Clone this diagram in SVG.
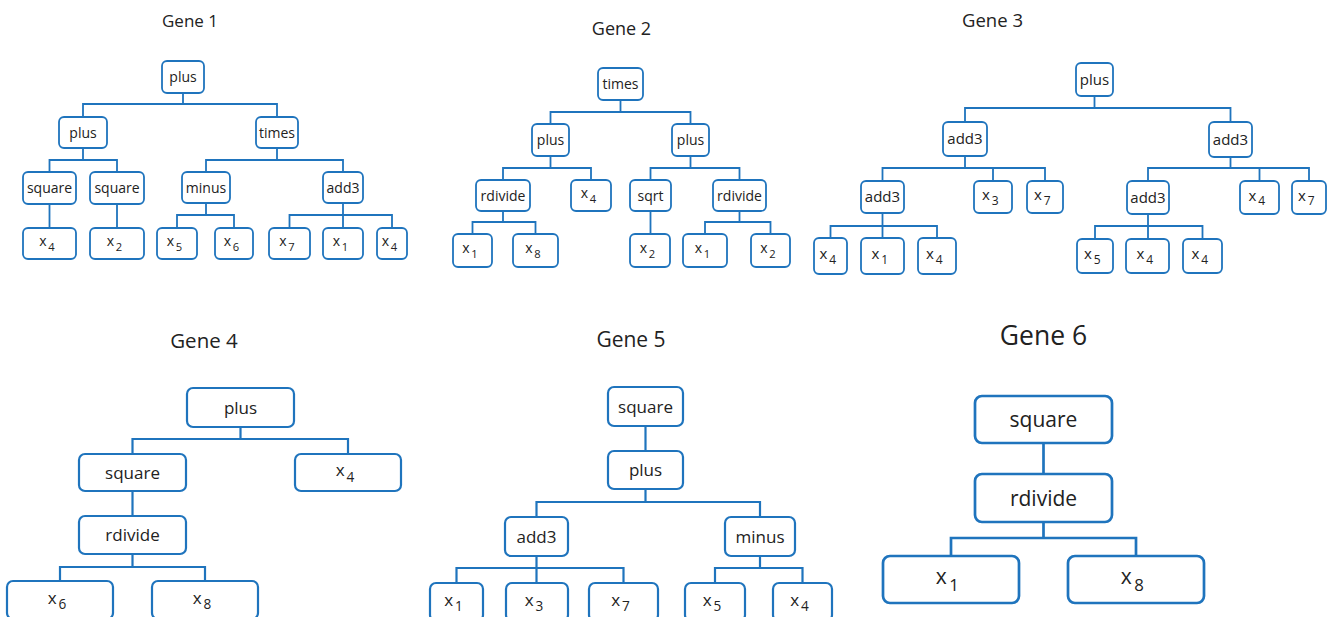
<svg xmlns="http://www.w3.org/2000/svg" width="1328" height="617" viewBox="0 0 1328 617">
<style>
.bg{fill:#fff}
.box{fill:#fff;stroke:#1f74bd;stroke-width:1.8}
.m .box{stroke-width:2.2}
.l .box{stroke-width:2.7}
.con path{fill:none;stroke:#1f74bd;stroke-width:1.8}
.con .m{stroke-width:2.2}
.con .l{stroke-width:2.7}
text{font-family:"Open Sans","Noto Sans",sans-serif;fill:#222;text-anchor:middle}
.f14{font-size:14px}
.f15{font-size:15px}
.f17{font-size:17px}
.f21{font-size:21px}
.sub{font-size:80%}
</style>
<rect class="bg" width="1328" height="617"/>
<g id="titles">
<text x="190" y="27" style="font-size:17px">Gene 1</text>
<text x="621.5" y="35" style="font-size:18px">Gene 2</text>
<text x="992.5" y="27" style="font-size:18.5px">Gene 3</text>
<text x="204" y="348" style="font-size:20.5px">Gene 4</text>
<text x="631" y="347" style="font-size:21px">Gene 5</text>
<text x="1043.5" y="345" style="font-size:26.5px">Gene 6</text>
</g>
<g id="connectors" class="con">
<path d="M183 93V104 M83 117V104H277V117"/>
<path d="M83 148V160 M49.5 172V160H117V172"/>
<path d="M277 148V160 M206 172V160H343V172"/>
<path d="M49.5 204V228 M117 204V228"/>
<path d="M206 203V215 M177 228V215H234V228"/>
<path d="M343 203V228 M289.5 228V215H392V228"/>
<path d="M620.5 100V112 M550.5 124V112H690.5V124"/>
<path d="M550.5 156V168 M503 180V168H591V180"/>
<path d="M690.5 156V168 M650.5 180V168H739.5V180"/>
<path d="M503 211V222 M472.5 234V222H535.5V234"/>
<path d="M650.5 211V234"/>
<path d="M739.5 211V222 M705 234V222H770.5V234"/>
<path d="M1094.5 96V108 M965 122V108H1230.5V122"/>
<path d="M965 156V168 M882.5 181V168H1045V181 M993 168V181"/>
<path d="M1230.5 157V168 M1148 181V168H1309V181 M1259.5 168V181"/>
<path d="M882.5 213V238 M830.5 238V226H937V238"/>
<path d="M1148 214V239 M1095 239V226H1202.5V239"/>
<path class="m" d="M240.5 427V439 M132.5 454V439H348V454"/>
<path class="m" d="M132.5 491V516"/>
<path class="m" d="M132.5 554V567 M60 581V567H205V581"/>
<path class="m" d="M645.5 426V451"/>
<path class="m" d="M645.5 489V502 M536.5 517V502H760V517"/>
<path class="m" d="M536.5 556V583 M456.5 583V568H623.5V583"/>
<path class="m" d="M760 556V568 M715 583V568H802.5V583"/>
<path class="l" d="M1043.5 443V474"/>
<path class="l" d="M1043.5 522V538 M951 556V538H1136V556"/>
</g>
<!-- Gene 1 -->
<g id="g1-plus"><rect class="box" x="162" y="61" width="42" height="32" rx="5"/><text class="f14" x="183" y="82">plus</text></g>
<g id="g1-plus2"><rect class="box" x="59" y="117" width="48" height="31" rx="5"/><text class="f14" x="83" y="137.5">plus</text></g>
<g id="g1-times"><rect class="box" x="256" y="117" width="42" height="31" rx="5"/><text class="f14" x="277" y="137.5">times</text></g>
<g id="g1-square1"><rect class="box" x="23" y="172" width="53" height="32" rx="5"/><text class="f14" x="49.5" y="193">square</text></g>
<g id="g1-square2"><rect class="box" x="90" y="172" width="54" height="32" rx="5"/><text class="f14" x="117" y="193">square</text></g>
<g id="g1-minus"><rect class="box" x="182" y="172" width="48" height="31" rx="5"/><text class="f14" x="206" y="192.5">minus</text></g>
<g id="g1-add3"><rect class="box" x="323" y="172" width="40" height="31" rx="5"/><text class="f14" x="343" y="192.5">add3</text></g>
<g id="g1-x4a"><rect class="box" x="23" y="228" width="53" height="31" rx="5"/><text class="f14" x="47" y="246.3">x<tspan class="sub" dx="0.15em" dy="4.5">4</tspan></text></g>
<g id="g1-x2"><rect class="box" x="90" y="228" width="54" height="31" rx="5"/><text class="f14" x="114.5" y="246.3">x<tspan class="sub" dx="0.15em" dy="4.5">2</tspan></text></g>
<g id="g1-x5"><rect class="box" x="157" y="228" width="40" height="31" rx="5"/><text class="f14" x="174.5" y="246.3">x<tspan class="sub" dx="0.15em" dy="4.5">5</tspan></text></g>
<g id="g1-x6"><rect class="box" x="215" y="228" width="38" height="31" rx="5"/><text class="f14" x="231.5" y="246.3">x<tspan class="sub" dx="0.15em" dy="4.5">6</tspan></text></g>
<g id="g1-x7"><rect class="box" x="269" y="228" width="41" height="31" rx="5"/><text class="f14" x="287" y="246.3">x<tspan class="sub" dx="0.15em" dy="4.5">7</tspan></text></g>
<g id="g1-x1"><rect class="box" x="323" y="228" width="40" height="31" rx="5"/><text class="f14" x="340.5" y="246.3">x<tspan class="sub" dx="0.15em" dy="4.5">1</tspan></text></g>
<g id="g1-x4b"><rect class="box" x="377" y="228" width="30" height="31" rx="5"/><text class="f14" x="389.5" y="246.3">x<tspan class="sub" dx="0.15em" dy="4.5">4</tspan></text></g>
<!-- Gene 2 -->
<g id="g2-times"><rect class="box" x="598" y="68" width="45" height="32" rx="5"/><text class="f14" x="620.5" y="89">times</text></g>
<g id="g2-plusL"><rect class="box" x="532" y="124" width="37" height="32" rx="5"/><text class="f14" x="550.5" y="145">plus</text></g>
<g id="g2-plusR"><rect class="box" x="672" y="124" width="37" height="32" rx="5"/><text class="f14" x="690.5" y="145">plus</text></g>
<g id="g2-rdivideL"><rect class="box" x="476" y="180" width="54" height="31" rx="5"/><text class="f14" x="503" y="200.5">rdivide</text></g>
<g id="g2-x4"><rect class="box" x="571" y="180" width="40" height="31" rx="5"/><text class="f14" x="588.5" y="198.3">x<tspan class="sub" dx="0.15em" dy="4.5">4</tspan></text></g>
<g id="g2-sqrt"><rect class="box" x="630" y="180" width="41" height="31" rx="5"/><text class="f14" x="650.5" y="200.5">sqrt</text></g>
<g id="g2-rdivideR"><rect class="box" x="713" y="180" width="53" height="31" rx="5"/><text class="f14" x="739.5" y="200.5">rdivide</text></g>
<g id="g2-x1a"><rect class="box" x="453" y="234" width="39" height="33" rx="5"/><text class="f14" x="470" y="253.3">x<tspan class="sub" dx="0.15em" dy="4.5">1</tspan></text></g>
<g id="g2-x8"><rect class="box" x="513" y="234" width="45" height="33" rx="5"/><text class="f14" x="533" y="253.3">x<tspan class="sub" dx="0.15em" dy="4.5">8</tspan></text></g>
<g id="g2-x2a"><rect class="box" x="630" y="234" width="40" height="33" rx="5"/><text class="f14" x="647.5" y="253.3">x<tspan class="sub" dx="0.15em" dy="4.5">2</tspan></text></g>
<g id="g2-x1b"><rect class="box" x="683" y="234" width="44" height="33" rx="5"/><text class="f14" x="702.5" y="253.3">x<tspan class="sub" dx="0.15em" dy="4.5">1</tspan></text></g>
<g id="g2-x2b"><rect class="box" x="751" y="234" width="39" height="33" rx="5"/><text class="f14" x="768" y="253.3">x<tspan class="sub" dx="0.15em" dy="4.5">2</tspan></text></g>
<!-- Gene 3 -->
<g id="g3-plus"><rect class="box" x="1076" y="63" width="37" height="33" rx="5"/><text class="f15" x="1094.5" y="85">plus</text></g>
<g id="g3-add3L"><rect class="box" x="943" y="122" width="44" height="34" rx="5"/><text class="f15" x="965" y="144">add3</text></g>
<g id="g3-add3R"><rect class="box" x="1209" y="122" width="43" height="35" rx="5"/><text class="f15" x="1230.5" y="144.5">add3</text></g>
<g id="g3-add3LL"><rect class="box" x="861" y="181" width="43" height="32" rx="5"/><text class="f15" x="882.5" y="202">add3</text></g>
<g id="g3-x3"><rect class="box" x="974" y="181" width="38" height="32" rx="5"/><text class="f15" x="990.3" y="200">x<tspan class="sub" dx="0.15em" dy="4.8">3</tspan></text></g>
<g id="g3-x7a"><rect class="box" x="1027" y="181" width="36" height="32" rx="5"/><text class="f15" x="1042.3" y="200">x<tspan class="sub" dx="0.15em" dy="4.8">7</tspan></text></g>
<g id="g3-add3RL"><rect class="box" x="1127" y="181" width="42" height="33" rx="5"/><text class="f15" x="1148" y="202.5">add3</text></g>
<g id="g3-x4r"><rect class="box" x="1240" y="181" width="39" height="33" rx="5"/><text class="f15" x="1256.8" y="200.5">x<tspan class="sub" dx="0.15em" dy="4.8">4</tspan></text></g>
<g id="g3-x7b"><rect class="box" x="1292" y="181" width="34" height="33" rx="5"/><text class="f15" x="1306.3" y="200.5">x<tspan class="sub" dx="0.15em" dy="4.8">7</tspan></text></g>
<g id="g3-x4a"><rect class="box" x="814" y="238" width="33" height="36" rx="5"/><text class="f15" x="827.8" y="259">x<tspan class="sub" dx="0.15em" dy="4.8">4</tspan></text></g>
<g id="g3-x1"><rect class="box" x="861" y="238" width="43" height="36" rx="5"/><text class="f15" x="879.8" y="259">x<tspan class="sub" dx="0.15em" dy="4.8">1</tspan></text></g>
<g id="g3-x4b"><rect class="box" x="918" y="238" width="38" height="36" rx="5"/><text class="f15" x="934.3" y="259">x<tspan class="sub" dx="0.15em" dy="4.8">4</tspan></text></g>
<g id="g3-x5"><rect class="box" x="1077" y="239" width="36" height="34" rx="5"/><text class="f15" x="1092.3" y="259">x<tspan class="sub" dx="0.15em" dy="4.8">5</tspan></text></g>
<g id="g3-x4c"><rect class="box" x="1126" y="239" width="43" height="34" rx="5"/><text class="f15" x="1144.8" y="259">x<tspan class="sub" dx="0.15em" dy="4.8">4</tspan></text></g>
<g id="g3-x4d"><rect class="box" x="1183" y="239" width="39" height="34" rx="5"/><text class="f15" x="1199.8" y="259">x<tspan class="sub" dx="0.15em" dy="4.8">4</tspan></text></g>
<!-- Gene 4 -->
<g id="g4-plus" class="m"><rect class="box" x="187" y="388" width="107" height="39" rx="6"/><text class="f17" x="240.5" y="413.5">plus</text></g>
<g id="g4-square" class="m"><rect class="box" x="79" y="454" width="107" height="37" rx="6"/><text class="f17" x="132.5" y="478.5">square</text></g>
<g id="g4-x4" class="m"><rect class="box" x="295" y="454" width="106" height="37" rx="6"/><text class="f17" x="345" y="476.1">x<tspan class="sub" dx="0.15em" dy="5.4">4</tspan></text></g>
<g id="g4-rdivide" class="m"><rect class="box" x="79" y="516" width="107" height="38" rx="6"/><text class="f17" x="132.5" y="541">rdivide</text></g>
<g id="g4-x6" class="m"><rect class="box" x="7" y="581" width="106" height="38" rx="6"/><text class="f17" x="57" y="603.6">x<tspan class="sub" dx="0.15em" dy="5.4">6</tspan></text></g>
<g id="g4-x8" class="m"><rect class="box" x="152" y="581" width="106" height="38" rx="6"/><text class="f17" x="202" y="603.6">x<tspan class="sub" dx="0.15em" dy="5.4">8</tspan></text></g>
<!-- Gene 5 -->
<g id="g5-square" class="m"><rect class="box" x="608" y="387" width="75" height="39" rx="6"/><text class="f17" x="645.5" y="412.5">square</text></g>
<g id="g5-plus" class="m"><rect class="box" x="608" y="451" width="75" height="38" rx="6"/><text class="f17" x="645.5" y="476">plus</text></g>
<g id="g5-add3" class="m"><rect class="box" x="505" y="517" width="63" height="39" rx="6"/><text class="f17" x="536.5" y="542.5">add3</text></g>
<g id="g5-minus" class="m"><rect class="box" x="725" y="517" width="70" height="39" rx="6"/><text class="f17" x="760" y="542.5">minus</text></g>
<g id="g5-x1" class="m"><rect class="box" x="430" y="583" width="53" height="38" rx="6"/><text class="f17" x="453.5" y="605.6">x<tspan class="sub" dx="0.15em" dy="5.4">1</tspan></text></g>
<g id="g5-x3" class="m"><rect class="box" x="506" y="583" width="62" height="38" rx="6"/><text class="f17" x="534" y="605.6">x<tspan class="sub" dx="0.15em" dy="5.4">3</tspan></text></g>
<g id="g5-x7" class="m"><rect class="box" x="589" y="583" width="69" height="38" rx="6"/><text class="f17" x="620.5" y="605.6">x<tspan class="sub" dx="0.15em" dy="5.4">7</tspan></text></g>
<g id="g5-x5" class="m"><rect class="box" x="685" y="583" width="60" height="38" rx="6"/><text class="f17" x="712" y="605.6">x<tspan class="sub" dx="0.15em" dy="5.4">5</tspan></text></g>
<g id="g5-x4" class="m"><rect class="box" x="773" y="583" width="59" height="38" rx="6"/><text class="f17" x="799.5" y="605.6">x<tspan class="sub" dx="0.15em" dy="5.4">4</tspan></text></g>
<!-- Gene 6 -->
<g id="g6-square" class="l"><rect class="box" x="975" y="396" width="137" height="47" rx="7"/><text class="f21" x="1043.5" y="427">square</text></g>
<g id="g6-rdivide" class="l"><rect class="box" x="975" y="474" width="137" height="48" rx="7"/><text class="f21" x="1043.5" y="505.5">rdivide</text></g>
<g id="g6-x1" class="l"><rect class="box" x="883" y="556" width="136" height="47" rx="7"/><text class="f21" x="947.2" y="584.2">x<tspan class="sub" dx="0.15em" dy="6.7">1</tspan></text></g>
<g id="g6-x8" class="l"><rect class="box" x="1068" y="556" width="136" height="47" rx="7"/><text class="f21" x="1132.2" y="584.2">x<tspan class="sub" dx="0.15em" dy="6.7">8</tspan></text></g>
</svg>
